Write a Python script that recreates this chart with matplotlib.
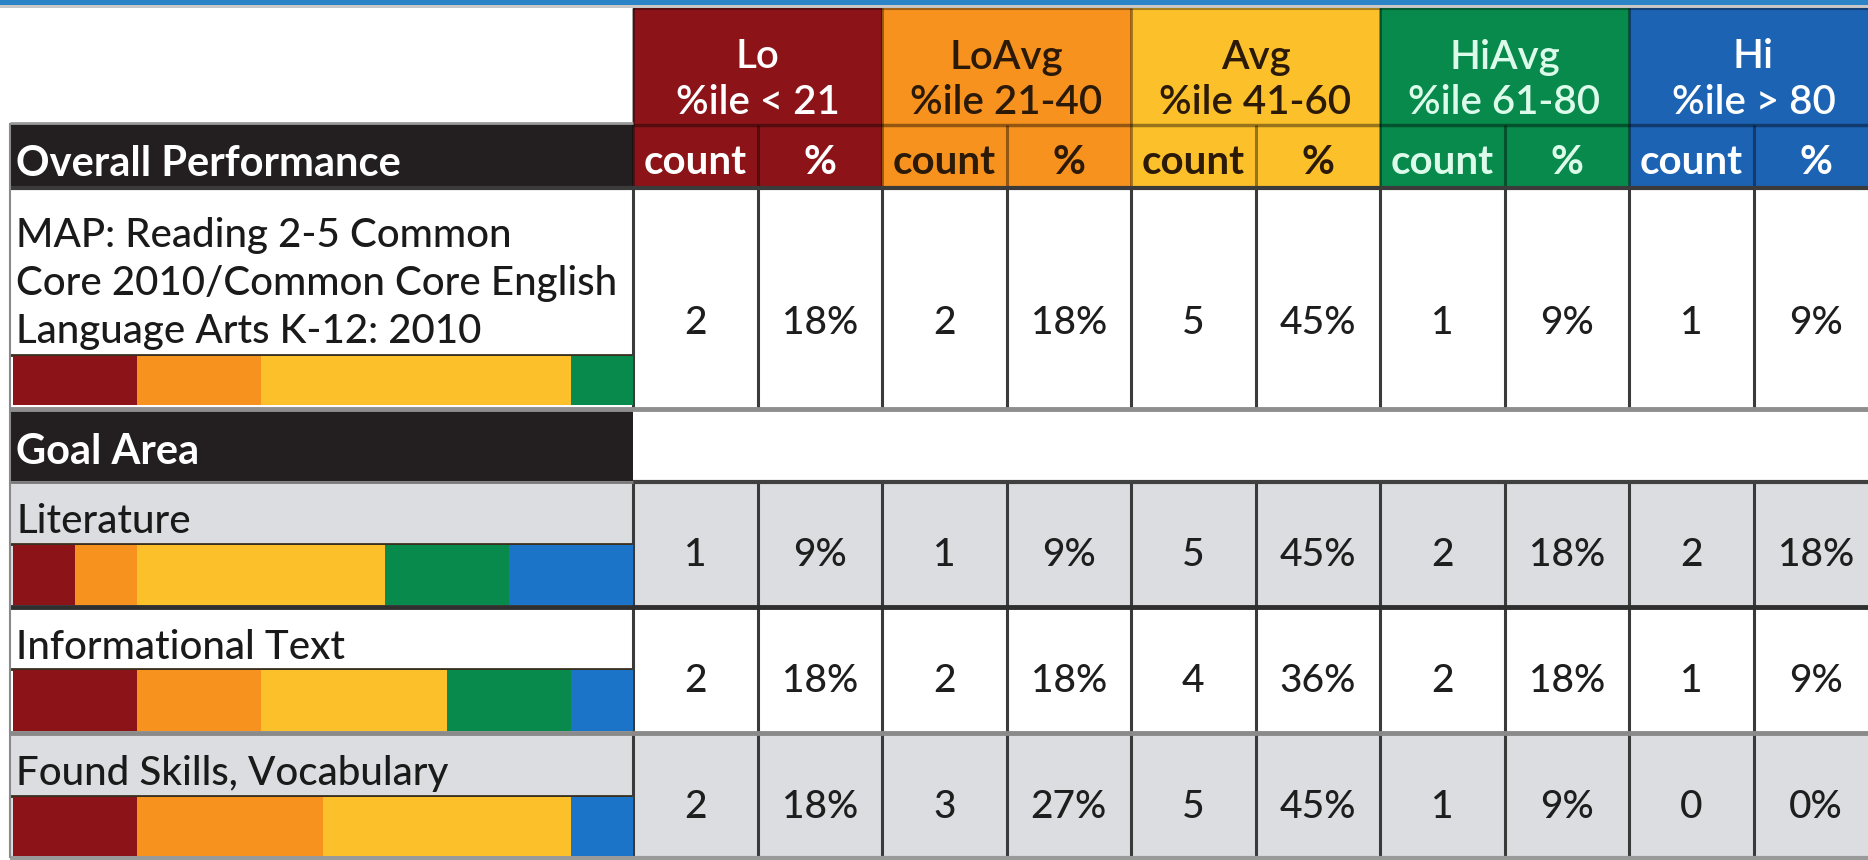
import matplotlib
matplotlib.use("Agg")
import matplotlib.pyplot as plt
from matplotlib.patches import Rectangle

# ---------------- data ----------------
levels = ["Lo", "LoAvg", "Avg", "HiAvg", "Hi"]
ranges = ["%ile < 21", "%ile 21-40", "%ile 41-60", "%ile 61-80", "%ile > 80"]
row_labels = ["MAP: Reading 2-5 Common\nCore 2010/Common Core English\nLanguage Arts K-12: 2010",
              "Literature", "Informational Text", "Found Skills, Vocabulary"]
counts = [[2, 2, 5, 1, 1],
          [1, 1, 5, 2, 2],
          [2, 2, 4, 2, 1],
          [2, 3, 5, 1, 0]]
pcts = [[18, 18, 45, 9, 9],
        [9, 9, 45, 18, 18],
        [18, 18, 36, 18, 9],
        [18, 27, 45, 9, 0]]
# stacked bar shares as drawn in the report (percent of bar width)
bar_share = [[20, 20, 50, 10, 0],
             [10, 10, 40, 20, 20],
             [20, 20, 30, 20, 10],
             [20, 30, 40, 0, 10]]

# ---------------- style ----------------
level_colors = ["#8c1419", "#f7921e", "#fcc12a", "#078a4b", "#1d63b4"]
bar_colors = ["#8c1419", "#f7921e", "#fcc12a", "#078a4b", "#1b74c8"]
head_txt = ["white", "#2b1a08", "#2b1a08", "#dcfbea", "white"]
DARK = "#231f20"
GRAY = "#dcdde0"
FONT = "Lato"
FS_LAB = 29
FS_BOLD = 30
FS_HEAD = 29
FS_VAL = 28

W, H = 1868, 860
fig = plt.figure(figsize=(W / 100, H / 100), dpi=100)
ax = fig.add_axes([0, 0, 1, 1])
ax.set_xlim(0, W)
ax.set_ylim(H, 0)
ax.axis("off")


def rect(x0, y0, x1, y1, c, z=1):
    ax.add_patch(Rectangle((x0, y0), x1 - x0, y1 - y0, facecolor=c, edgecolor="none", zorder=z))


def hline(y, x0, x1, c, lw):
    ax.plot([x0, x1], [y, y], color=c, lw=lw, solid_capstyle="butt", zorder=5)


def vline(x, y0, y1, c, lw):
    ax.plot([x, x], [y0, y1], color=c, lw=lw, solid_capstyle="butt", zorder=5)


# layout
LX0, LX1 = 10, 633
CX0, CW = 633, 124.5
col_x = [CX0 + k * CW for k in range(11)]
HEAD_T, HEAD_M, HEAD_B = 8, 125, 188
# data rows: (top, bottom, bg, label_top, label_bot, bar_top, bar_bot, value_y)
row_specs = [
    (189, 409, "white", 189, 354, 356, 405, 323),
    (482, 607, GRAY, 482, 543, 545, 605, 556),
    (607, 733, "white", 609, 668, 670, 731, 682),
    (733, 858, GRAY, 735, 795, 797, 856, 808),
]

# top blue strip
rect(0, 0, W, 5, "#2a84c6")
rect(0, 5, W, 8, "#c8c8c8")

# group headers
for g in range(5):
    x0, x1 = col_x[2 * g], col_x[2 * g + 2]
    rect(x0, HEAD_T, x1, HEAD_B, level_colors[g])
    cx = (x0 + x1) / 2
    ax.text(cx, 57, levels[g], ha="center", va="center", color=head_txt[g],
            fontsize=FS_HEAD, family=FONT, weight="semibold", zorder=6)
    ax.text(cx, 103, ranges[g], ha="center", va="center", color=head_txt[g],
            fontsize=FS_HEAD, family=FONT, weight="semibold", zorder=6)
    for s, lab in enumerate(["count", "%"]):
        sx = (col_x[2 * g + s] + col_x[2 * g + s + 1]) / 2
        ax.text(sx, 163, lab, ha="center", va="center", color=head_txt[g],
                fontsize=FS_HEAD, family=FONT, weight="bold", zorder=6)
    vline(col_x[2 * g + 1], HEAD_M, HEAD_B, "#00000066", 2.2)
    vline(x0, HEAD_T, HEAD_B, "#00000066", 2.0)
hline(HEAD_M, CX0, W, "#00000066", 2.5)
hline(HEAD_T + 1, CX0, W, "#00000055", 1.5)

# left dark headers
rect(LX0, 123, LX1, HEAD_B, DARK)
hline(123, LX0, LX1, "#9a9a9a", 2)
ax.text(16, 164, "Overall Performance", ha="left", va="center", color="white",
        fontsize=FS_BOLD, family=FONT, weight="bold", zorder=6)
rect(LX0, 410, LX1, 481, DARK)
ax.text(16, 452, "Goal Area", ha="left", va="center", color="white",
        fontsize=FS_BOLD, family=FONT, weight="bold", zorder=6)

# data rows
for r, (t, b, bg, lt, lb, bt, bb, vy) in enumerate(row_specs):
    rect(LX0, t, W, b, bg)
    if r == 0:
        for i, line in enumerate(row_labels[0].split("\n")):
            ax.text(16, 236 + i * 48, line, ha="left", va="center", color="#1a1a1a",
                    fontsize=FS_LAB, family=FONT, weight="medium", zorder=6)
    else:
        ax.text(16, (lt + lb) / 2 + 9, row_labels[r], ha="left", va="center",
                color="#1a1a1a", fontsize=FS_LAB, family=FONT, weight="medium", zorder=6)
    # stacked bar via its own axes
    bax = fig.add_axes([(LX0 + 3) / W, 1 - bb / H, (LX1 - LX0 - 3) / W, (bb - bt) / H])
    left = 0
    for k in range(5):
        bax.barh(0, bar_share[r][k], left=left, height=1.0, color=bar_colors[k],
                 edgecolor="none")
        left += bar_share[r][k]
    bax.set_xlim(0, 100)
    bax.set_ylim(-0.5, 0.5)
    bax.axis("off")
    hline(bt - 1, LX0, LX1, "#3a3020", 2.0)
    # values
    for g in range(5):
        for s, val in enumerate([f"{counts[r][g]}", f"{pcts[r][g]}%"]):
            c = 2 * g + s
            ax.text((col_x[c] + col_x[c + 1]) / 2, vy, val, ha="center", va="center",
                    color="#1e1e1e", fontsize=FS_VAL, family=FONT, weight="medium", zorder=6)
    for c in range(11):
        vline(col_x[c], t, b, "#3a3a3a", 2.2)

# goal-area row white on right
rect(CX0, 410, W, 481, "white")

# horizontal rules
hline(HEAD_B, LX0, W, "#3b3b3b", 3)
hline(409, LX0, W, "#8e8e8e", 3.5)
hline(482, CX0, W, "#404040", 3)
hline(482, LX0, CX0, "#777777", 2)
hline(607, LX0, W, "#2f2f2f", 3.5)
hline(733, LX0, W, "#8a8a8a", 3.5)
hline(858, LX0, W, "#9a9a9a", 3)
vline(LX0, 123, 858, "#8a8a8a", 1.5)

fig.savefig("out.png", dpi=100)
